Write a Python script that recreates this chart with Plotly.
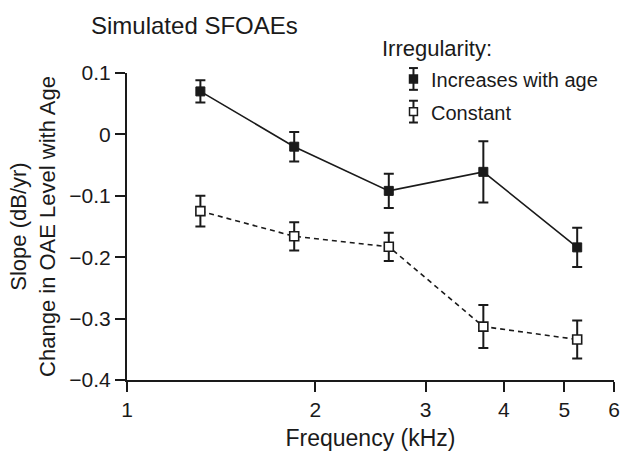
import plotly.graph_objects as go

# Stimulus frequencies (kHz), half-octave spacing
freq_khz = [1.31, 1.85, 2.62, 3.71, 5.24]

# Slope of OAE level vs. age (dB/yr) with error-bar half widths
slope_increasing = [0.070, -0.020, -0.092, -0.061, -0.184]
err_increasing = [0.018, 0.024, 0.028, 0.050, 0.032]

slope_constant = [-0.125, -0.166, -0.183, -0.313, -0.334]
err_constant = [0.025, 0.023, 0.023, 0.035, 0.031]

series_names = ["Increases with age", "Constant"]
legend_title = "Irregularity:"

x_ticks = [1, 2, 3, 4, 5, 6]
y_ticks = [-0.4, -0.3, -0.2, -0.1, 0, 0.1]

FONT = "Liberation Sans, Arial, sans-serif"
INK = "#1a1a1a"

# figure geometry (pixels)
W, H = 627, 454
L, R, T, B = 127, 7, 73, 71
PW, PH = W - L - R, H - T - B

fig = go.Figure()

fig.add_trace(go.Scatter(
    x=freq_khz, y=slope_increasing,
    mode="lines+markers",
    line=dict(color=INK, width=1.6),
    marker=dict(symbol="square", size=9, color=INK, line=dict(color=INK, width=1)),
    error_y=dict(type="data", array=err_increasing, visible=True,
                 color=INK, thickness=2, width=5),
    showlegend=False,
))

fig.add_trace(go.Scatter(
    x=freq_khz, y=slope_constant,
    mode="lines+markers",
    line=dict(color=INK, width=1.6, dash="5px,4px"),
    marker=dict(symbol="square", size=9, color="white", line=dict(color=INK, width=1.6)),
    error_y=dict(type="data", array=err_constant, visible=True,
                 color=INK, thickness=2, width=5),
    showlegend=False,
))


def px_to_paper(px, py):
    return (px - L) / PW, (H - B - py) / PH


# hand-built legend: square marker with whiskers, then label
legend_rows = [(79, INK), (112, "white")]
gx = 417
shapes = []
annotations = []
hx, hy = px_to_paper(383, 48)
annotations.append(dict(x=hx, y=hy, xref="paper", yref="paper", text=legend_title,
                        showarrow=False, xanchor="left", yanchor="middle",
                        font=dict(family=FONT, size=22, color=INK)))
for (gy, fill), name in zip(legend_rows, series_names):
    x0, y_top = px_to_paper(gx - 4.5, gy - 11)
    x1, y_bot = px_to_paper(gx + 4.5, gy + 11)
    xc, yc = px_to_paper(gx, gy)
    shapes.append(dict(type="line", xref="paper", yref="paper", x0=xc, x1=xc,
                       y0=y_top, y1=y_bot, line=dict(color=INK, width=2)))
    shapes.append(dict(type="line", xref="paper", yref="paper", x0=x0, x1=x1,
                       y0=y_top, y1=y_top, line=dict(color=INK, width=2)))
    shapes.append(dict(type="line", xref="paper", yref="paper", x0=x0, x1=x1,
                       y0=y_bot, y1=y_bot, line=dict(color=INK, width=2)))
    sx0, sy0 = px_to_paper(gx - 4, gy + 4)
    sx1, sy1 = px_to_paper(gx + 4, gy - 4)
    shapes.append(dict(type="rect", xref="paper", yref="paper", x0=sx0, x1=sx1,
                       y0=sy0, y1=sy1, fillcolor=fill, line=dict(color=INK, width=1.5)))
    tx, ty = px_to_paper(433, gy + 1)
    annotations.append(dict(x=tx, y=ty, xref="paper", yref="paper", text=name,
                            showarrow=False, xanchor="left", yanchor="middle",
                            font=dict(family=FONT, size=20, color=INK)))

fig.update_layout(
    width=W, height=H,
    margin=dict(l=L, r=R, t=T, b=B, pad=0),
    paper_bgcolor="white", plot_bgcolor="white",
    font=dict(family=FONT, size=21, color=INK),
    title=dict(text="Simulated SFOAEs", x=91 / W, xanchor="left", xref="container",
               y=1 - 26 / H, yanchor="middle", yref="container",
               font=dict(family=FONT, size=24, color=INK)),
    shapes=shapes,
    annotations=annotations,
    showlegend=False,
)

fig.update_xaxes(
    type="log", range=[0, 0.77815],
    tickvals=x_ticks, ticktext=[str(v) for v in x_ticks],
    ticks="outside", ticklen=10, tickwidth=2, tickcolor=INK,
    showline=True, linecolor=INK, linewidth=2,
    showgrid=False, zeroline=False,
    tickfont=dict(family=FONT, size=21, color=INK),
    title=dict(text="Frequency (kHz)", standoff=10,
               font=dict(family=FONT, size=23, color=INK)),
)

fig.update_yaxes(
    range=[-0.4, 0.1],
    tickvals=y_ticks,
    ticks="outside", ticklen=10, tickwidth=2, tickcolor=INK,
    showline=True, linecolor=INK, linewidth=2,
    showgrid=False, zeroline=False,
    tickfont=dict(family=FONT, size=21, color=INK),
    title=dict(text="Slope (dB/yr)<br>Change in OAE Level with Age", standoff=8,
               font=dict(family=FONT, size=22, color=INK)),
)

fig.write_html("out.html")
